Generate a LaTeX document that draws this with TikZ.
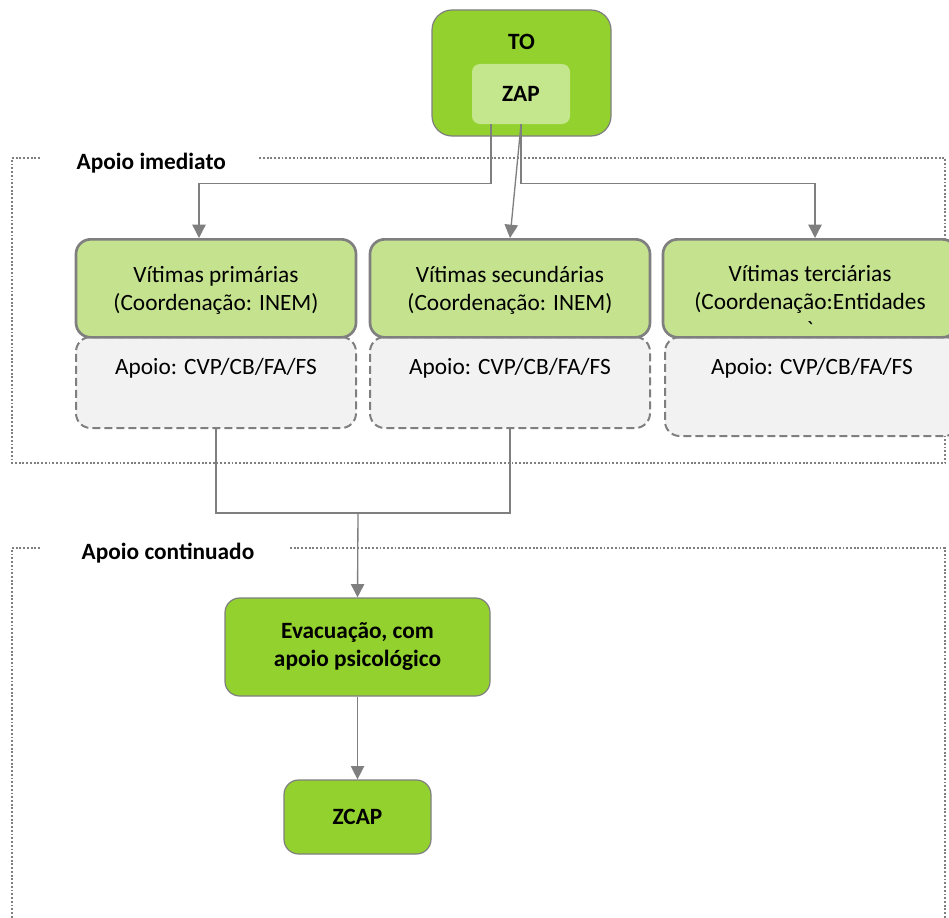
\documentclass[tikz,border=0pt]{standalone}
\usepackage{fontspec}
\setmainfont{Carlito}
\usetikzlibrary{positioning}
\usetikzlibrary{arrows.meta}
\definecolor{togreen}{HTML}{92D12E}
\definecolor{zapgreen}{HTML}{C4E68C}
\definecolor{vitgreen}{HTML}{C5E38F}
\definecolor{apoiogray}{HTML}{F2F2F2}
\definecolor{linegray}{HTML}{7F7F7F}
\newcommand{\diagfont}{\fontsize{17.5}{21}\selectfont}
\tikzset{>={Triangle[width=10pt,length=10pt]}}
\tikzstyle{greenbox} = [rectangle, rounded corners=11pt, draw=linegray, line width=0.9pt, fill=togreen, font=\diagfont\bfseries, align=center]
\tikzstyle{vitbox} = [rectangle, rounded corners=11pt, draw=linegray, line width=2pt, fill=vitgreen, align=center, anchor=north, inner ysep=0pt, text height=53.25pt, text depth=20.25pt]
\tikzstyle{apoiobox} = [rectangle, rounded corners=11pt, draw=linegray, dash pattern=on 6pt off 3pt, line width=1.5pt, fill=apoiogray, anchor=north, inner ysep=0pt, text height=27.75pt, text depth=40.5pt]
\tikzstyle{conn} = [draw=linegray, line width=1pt]
\tikzstyle{frame} = [draw=linegray, dash pattern=on 1.4pt off 1.4pt, line width=1.4pt]

\begin{document}
\begin{tikzpicture}[x=0.75pt, y=-0.75pt, font=\diagfont]
\useasboundingbox (0,0) rectangle (949,917);

% dotted frames
\draw [frame] (40,158) -- (12,158) -- (12,463) -- (945,463) -- (945,158) -- (258,158);
\node [anchor=west] (imediato) at (72,163) {\bfseries Apoio imediato};
\draw [frame] (40,548) -- (12,548) -- (12,930);
\draw [frame] (290,548) -- (945,548) -- (945,930);
\node [anchor=west] (continuado) at (77,553) {\bfseries Apoio continuado};

% TO / ZAP
\node [greenbox, minimum width=134.25pt, minimum height=94.5pt, rounded corners=15pt] (to) at (521.5,73) {};
\node [font=\diagfont\bfseries] (totitle) at (521.5,42) {TO};
\node [rectangle, rounded corners=6pt, fill=zapgreen, minimum width=73.5pt, minimum height=45pt, font=\diagfont\bfseries] (zap) at (521,94) {ZAP};

% apoio boxes
\node [apoiobox, minimum width=210pt] (apri) at (216,336) {Apoio: CVP/CB/FA/FS};
\node [apoiobox, minimum width=210pt] (asec) at (510,336) {Apoio: CVP/CB/FA/FS};
\node [apoiobox, minimum width=220.5pt, text depth=46.5pt] (ater) at (812,336) {Apoio: CVP/CB/FA/FS};

% victims
\node [vitbox, minimum width=210pt] (pri) at (216,238) {Vítimas primárias\\(Coordenação: INEM)};
\node [vitbox, minimum width=210pt] (sec) at (510,238) {Vítimas secundárias\\(Coordenação: INEM)};
\node [vitbox, minimum width=220.5pt, text height=73.5pt, text depth=0pt] (ter) at (810,238) {Vítimas terciárias\\(Coordenação:Entidades\\\textasciigrave};

% continued support
\node [greenbox, minimum width=198.75pt, minimum height=73.5pt] (evac) at (357.5,647) {Evacuação, com\\apoio psicológico};
\node [greenbox, minimum width=110.25pt, minimum height=55.5pt] (zcap) at (357.5,817) {ZCAP};

\draw [conn, ->] ([xshift=-22.5pt]zap.south) -- ++(0,59) -| ([xshift=-12.75pt]pri.north);
\draw [conn, ->] (zap.south) -- (sec.north);
\draw [conn, ->] (zap.south) -- ++(0,59) -| ([xshift=3.75pt]ter.north);

\coordinate (merge) at (358,513);
\draw [conn] (apri.south) |- (merge) -| (asec.south);
\draw [conn, ->] (merge) -- (evac.north);
\draw [conn, ->] (evac.south) -- (zcap.north);
\end{tikzpicture}
\end{document}
